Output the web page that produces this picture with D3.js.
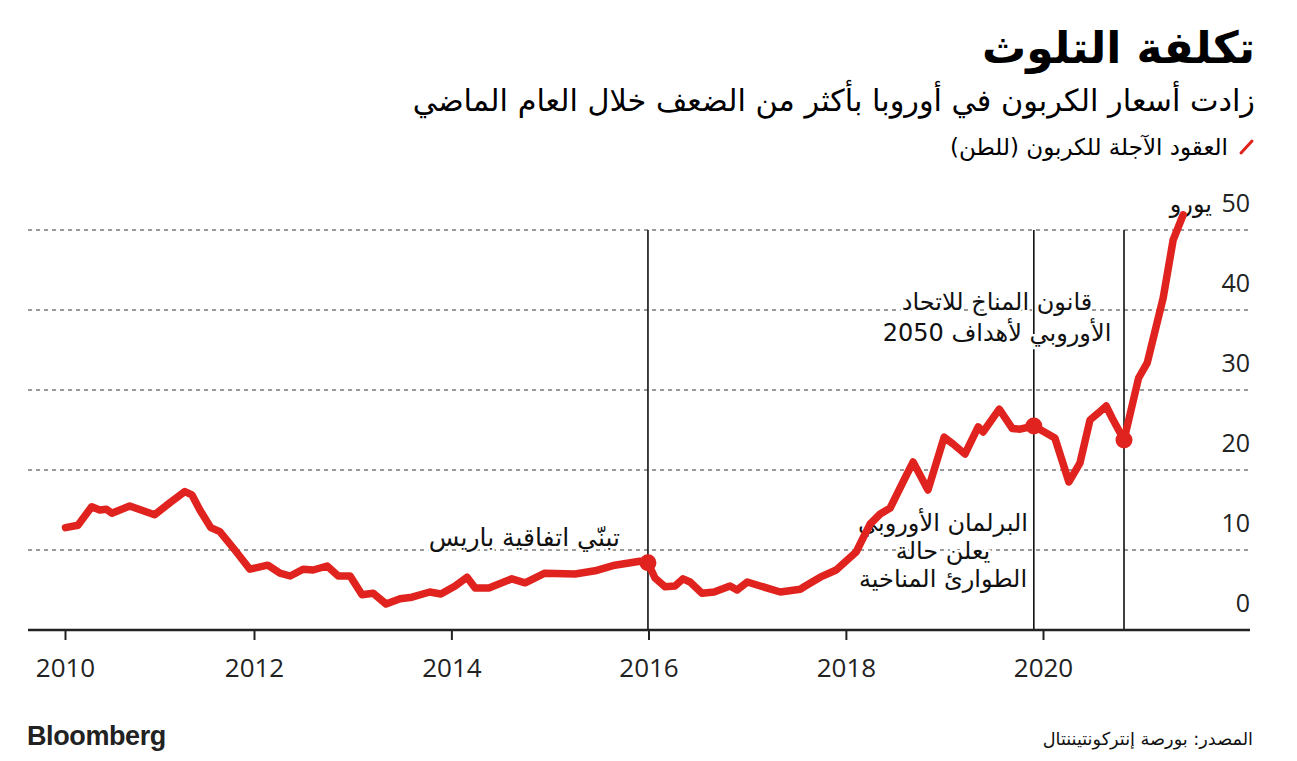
<!DOCTYPE html>
<html><head><meta charset="utf-8">
<script src="https://cdn.jsdelivr.net/npm/d3@7"></script>
<style>
html,body{margin:0;padding:0;background:#fff;}
svg{display:block;}
.ar{font-family:"DejaVu Sans",sans-serif;}
.num{font-family:"Open Sans",sans-serif;}
</style></head>
<body>
<svg id="chart" width="1297" height="761"></svg>
<script>
// ---- data ----
const dates = ["2010-01-03","2010-02-20","2010-04-14","2010-05-15","2010-06-10","2010-07-01","2010-09-08","2010-12-13",
"2011-02-10","2011-04-09","2011-05-06","2011-06-06","2011-07-18","2011-08-22","2011-10-19","2011-12-16",
"2012-02-21","2012-04-06","2012-05-14","2012-07-01","2012-08-07","2012-09-28","2012-11-08","2012-12-22",
"2013-02-04","2013-03-17","2013-05-04","2013-06-25","2013-08-08","2013-10-13","2013-11-23",
"2014-01-15","2014-02-28","2014-03-30","2014-05-20","2014-08-13","2014-10-01","2014-12-13",
"2015-04-04","2015-06-17","2015-08-29","2015-11-30","2015-12-30",
"2016-01-25","2016-03-02","2016-04-08","2016-05-08","2016-06-03","2016-07-17","2016-08-31","2016-10-29","2016-11-24",
"2017-01-01","2017-02-18","2017-05-03","2017-07-16","2017-08-04","2017-09-28","2017-11-26",
"2018-02-08","2018-03-02","2018-04-01","2018-05-08","2018-06-14","2018-08-08","2018-09-07","2018-11-01","2018-12-31",
"2019-02-02","2019-03-18","2019-05-06","2019-05-24","2019-07-23","2019-09-09","2019-10-08","2019-11-28",
"2020-02-14","2020-04-06","2020-05-17","2020-06-23","2020-07-23","2020-08-22","2020-09-13","2020-10-27",
"2020-12-20","2021-01-21","2021-03-21","2021-04-27","2021-06-03"];
const prices = [12.8,13.1,15.4,15.0,15.1,14.6,15.5,14.4,
15.9,17.3,16.9,15.0,12.8,12.3,10.0,7.6,
8.1,7.1,6.75,7.6,7.5,8.0,6.75,6.75,
4.4,4.6,3.25,3.9,4.1,4.75,4.5,
5.5,6.6,5.25,5.25,6.4,5.9,7.1,
7.0,7.4,8.1,8.6,8.4,
6.5,5.4,5.5,6.4,6.0,4.6,4.75,5.5,5.0,
6.0,5.5,4.75,5.1,5.5,6.6,7.5,
9.75,11.25,13.25,14.5,15.25,19.0,21.0,17.5,24.1,
23.25,22.0,25.4,24.75,27.6,25.2,25.1,25.5,
24.0,18.5,20.9,26.25,27.1,28.0,26.5,23.75,
31.5,33.4,41.5,48.75,51.9];

const yTicks = [0,10,20,30,40,50];
const yUnit = "يورو";
const xTickYears = [2010,2012,2014,2016,2018,2020];

const eventDates = ["2015-12-30","2019-11-28","2020-10-27"];
const eventValues = [8.4,25.5,23.75];
const eventLabels = [
  ["تبنّي اتفاقية باريس"],
  ["البرلمان الأوروبي","يعلن حالة","الطوارئ المناخية"],
  ["قانون المناخ للاتحاد","الأوروبي لأهداف 2050"]
];

const titleText = "تكلفة التلوث";
const subtitleText = "زادت أسعار الكربون في أوروبا بأكثر من الضعف خلال العام الماضي";
const legendText = "العقود الآجلة للكربون (للطن)\u200F";
const sourceText = "المصدر: بورصة إنتركونتيننتال";
const brandText = "Bloomberg";

// ---- drawing ----
const RED = "#e0231e";
const parse = d3.timeParse("%Y-%m-%d");
const series = dates.map((d,i)=>({date:parse(d), value:prices[i]}));
const events = eventDates.map((d,i)=>({date:parse(d), value:eventValues[i], label:eventLabels[i]}));

const svg = d3.select("#chart");
const left = 28, right = 1250;

const x = d3.scaleTime()
  .domain([new Date(2010,0,1), new Date(2012,0,1), new Date(2020,0,1)])
  .range([65, 254, 1043]);
const y = d3.scaleLinear().domain([0,50]).range([630,230]);

// header
svg.append("text").attr("class","ar").attr("x",1255).attr("y",63)
  .attr("text-anchor","end").attr("font-size",44).attr("font-weight","bold").attr("fill","#000")
  .text(titleText);
svg.append("text").attr("class","ar").attr("x",1255).attr("y",111)
  .attr("text-anchor","end").attr("font-size",30.3).attr("fill","#000")
  .text(subtitleText);
svg.append("line").attr("x1",1241).attr("y1",153).attr("x2",1252).attr("y2",141)
  .attr("stroke",RED).attr("stroke-width",3).attr("stroke-linecap","round");
svg.append("text").attr("class","ar").attr("x",1228).attr("y",155)
  .attr("text-anchor","end").attr("font-size",23).attr("fill","#000")
  .text(legendText);

// gridlines
svg.append("g").selectAll("line").data(yTicks.filter(d=>d>0)).join("line")
  .attr("x1",left).attr("x2",right).attr("y1",d=>y(d)).attr("y2",d=>y(d))
  .attr("stroke","#9a9a9a").attr("stroke-width",2).attr("stroke-dasharray","4,4");

// y labels
svg.append("g").selectAll("text").data(yTicks).join("text")
  .attr("class","num").attr("x",right).attr("y",d=>y(d)-18)
  .attr("text-anchor","end").attr("font-size",25).attr("fill","#222")
  .text(d=>d);
svg.append("text").attr("class","ar").attr("x",right-38).attr("y",y(50)-18)
  .attr("text-anchor","end").attr("font-size",24).attr("fill","#111")
  .text(yUnit);

// event vertical lines
svg.append("g").selectAll("line").data(events).join("line")
  .attr("x1",d=>x(d.date)).attr("x2",d=>x(d.date)).attr("y1",y(50)).attr("y2",y(0))
  .attr("stroke","#111").attr("stroke-width",1.6);

// event labels
const labelPos = [
  {x:x(events[0].date)-28, y:y(10)-4, anchor:"end", dy:28, fs:25},
  {x:943, y:y(10)-19, anchor:"middle", dy:28, fs:24},
  {x:997, y:y(40)+0, anchor:"middle", dy:31, fs:24}
];
events.forEach((e,i)=>{
  const t = svg.append("text").attr("class","ar")
    .attr("x",labelPos[i].x).attr("y",labelPos[i].y)
    .attr("text-anchor",labelPos[i].anchor).attr("font-size",labelPos[i].fs).attr("fill","#111")
    .attr("stroke","#fff").attr("stroke-width",5).attr("paint-order","stroke");
  e.label.forEach((l,j)=>{
    t.append("tspan").attr("x",labelPos[i].x).attr("dy", j===0?0:labelPos[i].dy).text(l);
  });
});

// line
const line = d3.line().x(d=>x(d.date)).y(d=>y(d.value));
svg.append("path").datum(series).attr("d",line)
  .attr("fill","none").attr("stroke",RED).attr("stroke-width",7.5)
  .attr("stroke-linejoin","round").attr("stroke-linecap","round");

svg.append("g").selectAll("circle").data(events).join("circle")
  .attr("cx",d=>x(d.date)).attr("cy",d=>y(d.value)).attr("r",8.5).attr("fill",RED);

// x axis
svg.append("line").attr("x1",left).attr("x2",right).attr("y1",y(0)).attr("y2",y(0))
  .attr("stroke","#222").attr("stroke-width",2.5);
const xAxis = d3.axisBottom(x)
  .tickValues(xTickYears.map(yr=>new Date(yr,0,1)))
  .tickFormat(d3.timeFormat("%Y")).tickSize(10).tickPadding(19);
const gx = svg.append("g").attr("transform",`translate(0,${y(0)})`).call(xAxis);
gx.select(".domain").remove();
gx.selectAll(".tick line").attr("stroke","#222").attr("stroke-width",2);
gx.selectAll(".tick text").attr("class","num").attr("font-size",26).attr("fill","#222");

// footer
svg.append("text").attr("x",27).attr("y",745).attr("font-family","Liberation Sans, Arial, sans-serif")
  .attr("font-weight","bold").attr("font-size",27).attr("letter-spacing",-0.4).attr("fill","#222")
  .text(brandText);
svg.append("text").attr("class","ar").attr("x",1253).attr("y",745)
  .attr("text-anchor","end").attr("font-size",17.7).attr("fill","#111")
  .text(sourceText);
</script>
</body></html>
